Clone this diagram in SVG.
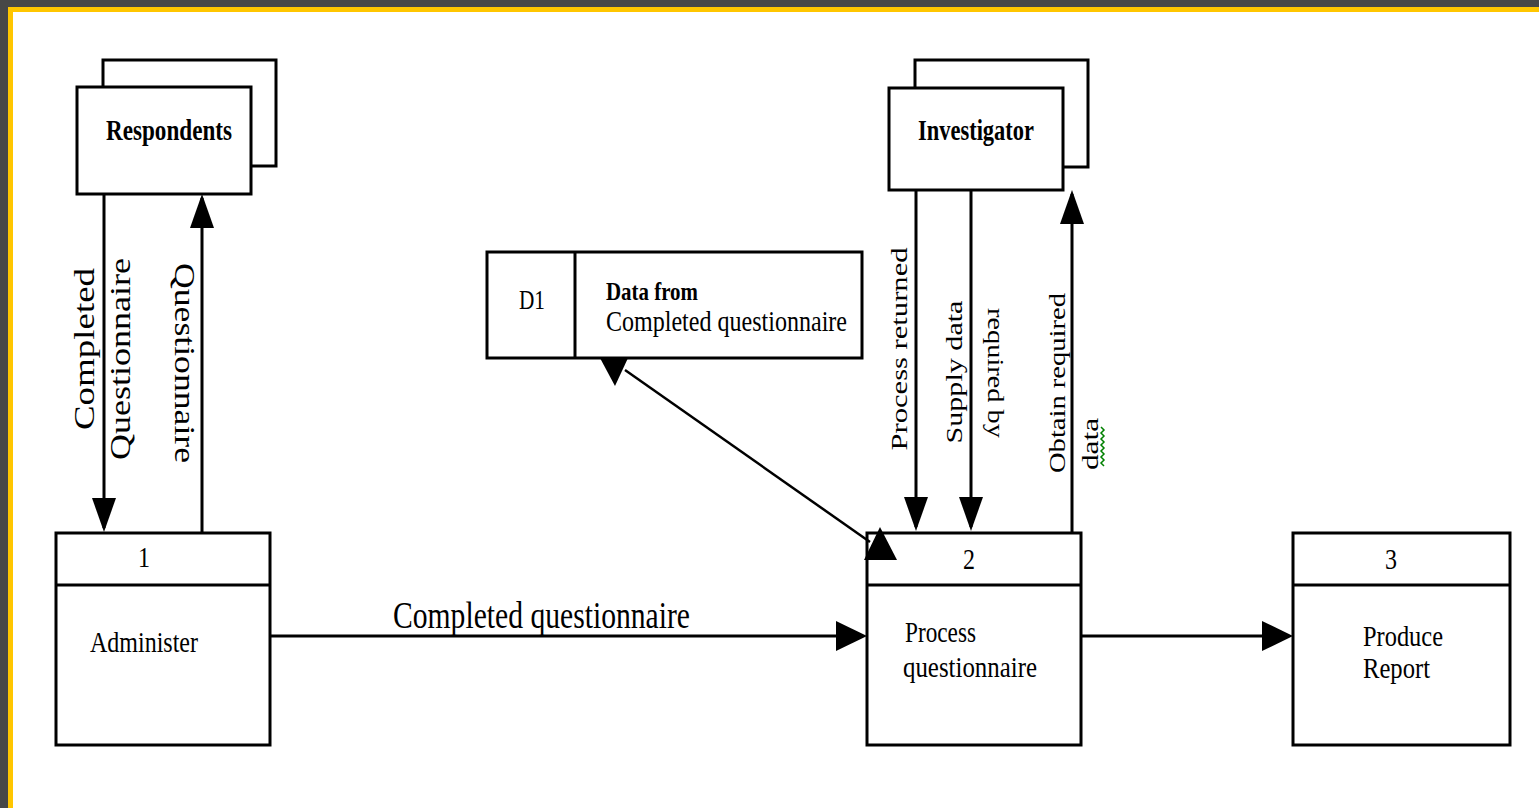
<svg xmlns="http://www.w3.org/2000/svg" width="1539" height="808" viewBox="0 0 1539 808">
<defs>
<style>
.box{fill:#fff;stroke:#000;stroke-width:3}
.ln{fill:none;stroke:#000;stroke-width:3}
.t{font-family:"Liberation Serif","Times New Roman",serif;fill:#000}
.s{font-size:24px}
.b{font-weight:bold}
.big{font-size:30px}
.m{text-anchor:middle}
</style>
<marker id="ahv" markerUnits="userSpaceOnUse" markerWidth="34" markerHeight="24" viewBox="0 0 34 24" refX="30" refY="12" orient="auto"><path d="M0,0L34,12L0,24z" fill="#000"/></marker>
<marker id="ahh" markerUnits="userSpaceOnUse" markerWidth="31" markerHeight="30" viewBox="0 0 31 30" refX="27" refY="15" orient="auto"><path d="M0,0L31,15L0,30z" fill="#000"/></marker>
</defs>
<rect x="0" y="0" width="1539" height="808" fill="#474747"/>
<rect x="8" y="7" width="1531" height="801" fill="#ffc600"/>
<rect x="13" y="12" width="1526" height="796" fill="#fff"/>

<g id="respondents">
<rect class="box" x="103" y="60" width="173" height="106"/>
<rect class="box" x="77" y="87" width="174" height="107"/>
<text class="t s b" transform="translate(106,140) scale(1,1.2)" textLength="126" lengthAdjust="spacingAndGlyphs">Respondents</text>
</g>

<g id="investigator">
<rect class="box" x="915" y="60" width="173" height="107"/>
<rect class="box" x="889" y="88" width="174" height="102"/>
<text class="t s b" transform="translate(918,140) scale(1,1.2)" textLength="116" lengthAdjust="spacingAndGlyphs">Investigator</text>
</g>

<g id="d1">
<rect class="box" x="487" y="252" width="375" height="106"/>
<line class="ln" x1="575" y1="252" x2="575" y2="358"/>
<text class="t m" style="font-size:22px" transform="translate(532,309) scale(1,1.2)" textLength="26" lengthAdjust="spacingAndGlyphs">D1</text>
<text class="t b" style="font-size:21px" transform="translate(606,300) scale(1,1.2)" textLength="92" lengthAdjust="spacingAndGlyphs">Data from</text>
<text class="t s" transform="translate(606,331) scale(1,1.2)" textLength="241" lengthAdjust="spacingAndGlyphs">Completed questionnaire</text>
</g>

<g id="p1">
<rect class="box" x="56" y="533" width="214" height="212"/>
<line class="ln" x1="56" y1="585" x2="270" y2="585"/>
<text class="t s m" transform="translate(144,567) scale(1,1.2)">1</text>
<text class="t s" transform="translate(90,652) scale(1,1.2)" textLength="108" lengthAdjust="spacingAndGlyphs">Administer</text>
</g>

<g id="p2">
<rect class="box" x="867" y="533" width="214" height="212"/>
<line class="ln" x1="867" y1="585" x2="1081" y2="585"/>
<text class="t s m" transform="translate(969,569) scale(1,1.2)">2</text>
<text class="t s" transform="translate(905,642) scale(1,1.2)" textLength="71" lengthAdjust="spacingAndGlyphs">Process</text>
<text class="t s" transform="translate(903,677) scale(1,1.2)" textLength="134" lengthAdjust="spacingAndGlyphs">questionnaire</text>
</g>

<g id="p3">
<rect class="box" x="1293" y="533" width="217" height="212"/>
<line class="ln" x1="1293" y1="585" x2="1510" y2="585"/>
<text class="t s m" transform="translate(1391,569) scale(1,1.2)">3</text>
<text class="t s" transform="translate(1363,646) scale(1,1.2)" textLength="80" lengthAdjust="spacingAndGlyphs">Produce</text>
<text class="t s" transform="translate(1363,678) scale(1,1.2)" textLength="67" lengthAdjust="spacingAndGlyphs">Report</text>
</g>

<g id="connectors">
<line class="ln" x1="104" y1="194" x2="104" y2="528" marker-end="url(#ahv)"/>
<line class="ln" x1="202" y1="533" x2="202" y2="198" marker-end="url(#ahv)"/>
<line class="ln" x1="916" y1="190" x2="916" y2="527" marker-end="url(#ahv)"/>
<line class="ln" x1="971" y1="190" x2="971" y2="527" marker-end="url(#ahv)"/>
<line class="ln" x1="1072" y1="533" x2="1072" y2="194" marker-end="url(#ahv)"/>
<line class="ln" x1="270" y1="636" x2="863" y2="636" marker-end="url(#ahh)"/>
<line class="ln" x1="1081" y1="636" x2="1289" y2="636" marker-end="url(#ahh)"/>
<line class="ln" style="stroke-width:2.5" x1="625" y1="370" x2="870" y2="542"/>
<polygon points="600,358 628,358 615,386" fill="#000"/>
<polygon points="880,527 864,560 897,560" fill="#000"/>
</g>

<g id="connector-labels">
<text class="t big m" transform="translate(94,349) rotate(-90)" textLength="162" lengthAdjust="spacingAndGlyphs">Completed</text>
<text class="t big m" transform="translate(130,359) rotate(-90)" textLength="202" lengthAdjust="spacingAndGlyphs">Questionnaire</text>
<text class="t big m" transform="translate(175,363) rotate(90)" textLength="200" lengthAdjust="spacingAndGlyphs">Questionnaire</text>
<text class="t big" transform="translate(393,628) scale(1,1.25)" textLength="297" lengthAdjust="spacingAndGlyphs">Completed questionnaire</text>
<text class="t s m" transform="translate(907,349) rotate(-90)" textLength="203" lengthAdjust="spacingAndGlyphs">Process returned</text>
<text class="t s m" transform="translate(962,372) rotate(-90)" textLength="143" lengthAdjust="spacingAndGlyphs">Supply data</text>
<text class="t s m" transform="translate(988,373) rotate(90)" textLength="130" lengthAdjust="spacingAndGlyphs">required by</text>
<text class="t s m" transform="translate(1065,383) rotate(-90)" textLength="180" lengthAdjust="spacingAndGlyphs">Obtain required</text>
<text class="t s m" transform="translate(1098,444) rotate(-90)" textLength="52" lengthAdjust="spacingAndGlyphs">data</text>
<path d="M1101,427l3,3l-3,3l3,3l-3,3l3,3l-3,3l3,3l-3,3l3,3l-3,3l3,3l-3,3l3,3" fill="none" stroke="#008000" stroke-width="1.5"/>
</g>
</svg>
